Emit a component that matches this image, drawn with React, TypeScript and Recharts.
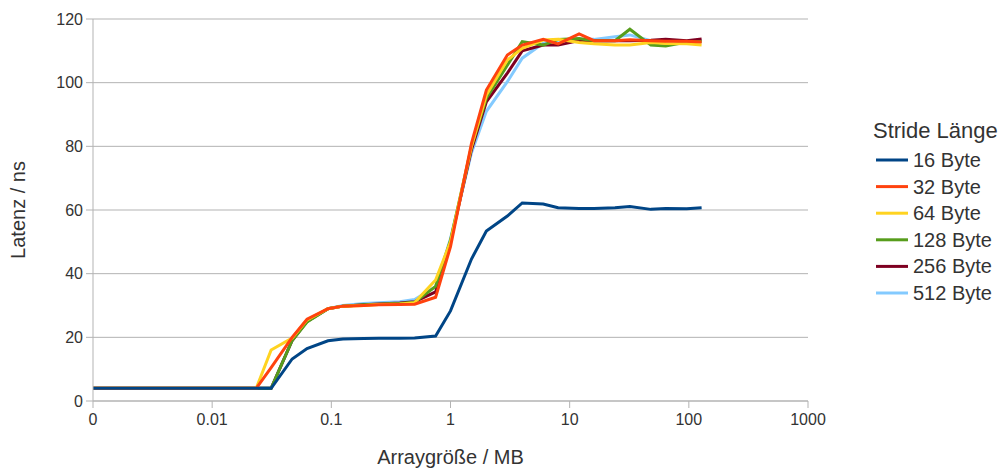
import { LineChart, Line, XAxis, YAxis, CartesianGrid, Label } from "recharts";

// array sizes in KB, plotted in MB
const SIZES_KB = [
  1, 1.5, 2, 3, 4, 6, 8, 12, 16, 24, 32, 48, 64, 96, 128, 192, 256, 384, 512, 768,
  1024, 1536, 2048, 3072, 4096, 6144, 8192, 12288, 16384, 24576, 32768, 49152, 65536, 98304, 131072,
];

const S16 = [
  4, 4, 4, 4, 4, 4, 4, 4, 4, 4, 4, 13.2, 16.5, 18.9, 19.5, 19.6, 19.7, 19.7, 19.8, 20.4,
  28.3, 44.6, 53.4, 58.1, 62.2, 61.9, 60.7, 60.5, 60.5, 60.7, 61.1, 60.2, 60.5, 60.4, 60.7,
];
const S32 = [
  4, 4, 4, 4, 4, 4, 4, 4, 4, 4, 10.5, 20.0, 25.7, 29.0, 29.8, 30.0, 30.2, 30.3, 30.4, 32.6,
  48.5, 80.9, 97.7, 108.7, 111.8, 113.6, 112.2, 115.3, 113.2, 113.2, 113.5, 113.2, 113.0, 113.0, 112.8,
];
const S64 = [
  4, 4, 4, 4, 4, 4, 4, 4, 4, 4, 16.0, 19.8, 25.5, 29.0, 29.8, 30.0, 30.3, 30.5, 30.9, 38.0,
  50.0, 80.0, 96.1, 107.1, 110.8, 113.4, 113.6, 112.6, 112.2, 111.8, 111.8, 112.6, 112.3, 112.2, 111.8,
];
const S128 = [
  4, 4, 4, 4, 4, 4, 4, 4, 4, 4, 4, 19.0, 24.8, 29.0, 29.8, 30.2, 30.4, 30.6, 31.0, 36.0,
  50.5, 80.0, 95.1, 105.5, 112.9, 111.8, 113.6, 113.9, 113.2, 113.2, 116.8, 111.8, 111.5, 112.8, 112.9,
];
const S256 = [
  4, 4, 4, 4, 4, 4, 4, 4, 4, 4, 4, 19.0, 25.0, 29.0, 29.8, 30.2, 30.5, 30.8, 31.2, 34.3,
  50.0, 79.0, 94.0, 103.0, 110.0, 111.8, 111.8, 113.2, 113.2, 113.2, 113.2, 113.3, 113.6, 113.2, 113.7,
];
const S512 = [
  4, 4, 4, 4, 4, 4, 4, 4, 4, 4, 4, 19.0, 25.0, 29.0, 30.0, 30.6, 30.9, 31.2, 31.9, 35.9,
  51.0, 78.0, 91.0, 100.3, 107.7, 112.4, 113.3, 113.6, 113.6, 114.4, 115.0, 113.2, 113.3, 113.0, 113.2,
];

const X_TICKS = [0.001, 0.01, 0.1, 1, 10, 100, 1000];
const Y_TICKS = [0, 20, 40, 60, 80, 100, 120];

const SERIES = [
  { key: "s16", label: "16 Byte", color: "#004586", values: S16 },
  { key: "s32", label: "32 Byte", color: "#ff420e", values: S32 },
  { key: "s64", label: "64 Byte", color: "#ffd320", values: S64 },
  { key: "s128", label: "128 Byte", color: "#579d1c", values: S128 },
  { key: "s256", label: "256 Byte", color: "#7e0021", values: S256 },
  { key: "s512", label: "512 Byte", color: "#83caff", values: S512 },
];

const data = SIZES_KB.map((kb, i) => {
  const row: Record<string, number> = { mb: kb / 1024 };
  SERIES.forEach((s) => (row[s.key] = s.values[i]));
  return row;
});

const FONT = "'Liberation Sans', Arial, sans-serif";
const TEXT = "#333333";
const GRID = "#b3b3b3";

function LegendBox() {
  return (
    <svg
      width={147}
      height={200}
      style={{ position: "absolute", left: 860, top: 100, fontFamily: FONT }}
    >
      <text x={5} y={30} fontSize={22} fill={TEXT}>
        Stride Länge
      </text>
      {SERIES.map((s, i) => (
        <g key={s.key}>
          <line x1={8} x2={40} y1={52 + i * 26.6} y2={52 + i * 26.6} stroke={s.color} strokeWidth={3} />
          <text x={45} y={59 + i * 26.6} fontSize={20} fill={TEXT}>
            {s.label}
          </text>
        </g>
      ))}
    </svg>
  );
}

export default function App() {
  // draw last series first so the 16 Byte line sits on top, like the original
  const drawOrder = [...SERIES].reverse();
  return (
    <div style={{ position: "relative", width: 991, height: 464, fontFamily: FONT }}>
      <LineChart width={991} height={464} data={data} margin={{ top: 11, right: 191, bottom: 0, left: 0 }}>
        <CartesianGrid vertical={false} stroke={GRID} strokeWidth={1} />
        <XAxis
          dataKey="mb"
          type="number"
          scale="log"
          domain={[0.001, 1000]}
          allowDataOverflow
          ticks={X_TICKS}
          tickFormatter={(v: number) => (v === 0.001 ? "0" : String(v))}
          height={71}
          stroke={GRID}
          tickSize={7}
          tickMargin={6}
          tick={{ fill: TEXT, fontSize: 16 }}
        >
          <Label
            content={() => (
              <text x={442.5} y={449} textAnchor="middle" dominantBaseline="central" fontSize={20} fill={TEXT}>
                Arraygröße / MB
              </text>
            )}
          />
        </XAxis>
        <YAxis
          domain={[0, 120]}
          ticks={Y_TICKS}
          width={85}
          stroke={GRID}
          tickSize={7}
          tickMargin={3}
          tick={{ fill: TEXT, fontSize: 16 }}
        >
          <Label
            content={() => (
              <text
                x={10}
                y={202}
                transform="rotate(-90 10 202)"
                textAnchor="middle"
                dominantBaseline="central"
                fontSize={20}
                fill={TEXT}
              >
                Latenz / ns
              </text>
            )}
          />
        </YAxis>
        {drawOrder.map((s) => (
          <Line
            key={s.key}
            type="linear"
            dataKey={s.key}
            name={s.label}
            stroke={s.color}
            strokeWidth={3}
            dot={false}
            activeDot={false}
            isAnimationActive={false}
          />
        ))}
      </LineChart>
      <LegendBox />
    </div>
  );
}
